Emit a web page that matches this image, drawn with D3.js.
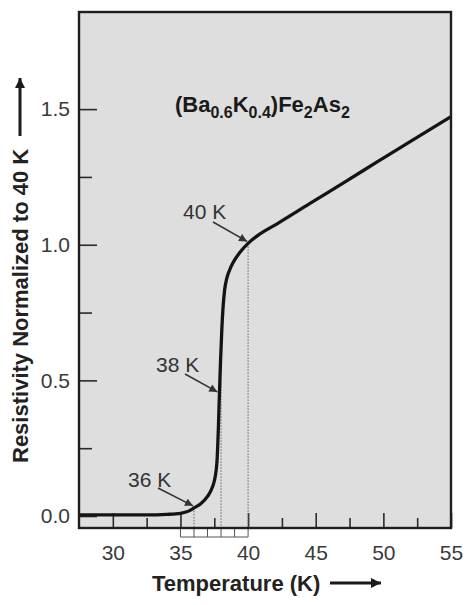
<!DOCTYPE html>
<html>
<head>
<meta charset="utf-8">
<script src="https://cdn.jsdelivr.net/npm/d3@7"></script>
<style>
  body { margin: 0; background: #fff; }
  text { font-family: "Liberation Sans", Arial, Helvetica, sans-serif; }
</style>
</head>
<body>
<div id="chart"></div>
<script>
// Resistivity vs temperature, (Ba0.6K0.4)Fe2As2
const temps  = [27.5, 30, 32.5, 34, 35, 35.6, 36, 36.5, 37, 37.35, 37.55, 37.7, 37.8, 37.88, 37.97, 38.06, 38.15, 38.27, 38.42, 38.62, 38.9, 39.4, 40, 40.6, 41.3, 42.2, 44.7, 47.2, 49.6, 52.1, 55];
const resist = [0.004, 0.004, 0.004, 0.006, 0.010, 0.018, 0.030, 0.045, 0.072, 0.105, 0.14, 0.20, 0.32, 0.45, 0.58, 0.69, 0.77, 0.835, 0.875, 0.905, 0.935, 0.972, 1.005, 1.03, 1.053, 1.079, 1.156, 1.233, 1.307, 1.384, 1.472];

const xMajor = [30, 35, 40, 45, 50, 55];
const xMinor = [32.5, 37.5, 42.5, 47.5, 52.5];
const yMajor = [0, 0.5, 1.0, 1.5];
const yMinor = [0.25, 0.75, 1.25];
const boxTicks = [35, 36, 37, 38, 39, 40];   // little boxes under the axis

// arrows: label, temperature, resistivity where the arrow points
const notes = [
  {label: "40 K", t: 40, r: 1.005, tx: 183, ty: 219, ax: 213, ay: 222},
  {label: "38 K", t: 37.8, r: 0.45, tx: 156, ty: 372, ax: 185, ay: 374},
  {label: "36 K", t: 36, r: 0.030, tx: 128, ty: 487, ax: 158, ay: 488}
];
const guides = [{t: 36, r: 0.03}, {t: 38, r: 0.5}, {t: 40, r: 1.005}];

const W = 465, H = 605;
const mLeft = 79, mRight = 451, mTop = 12, mBottom = 528;

const svg = d3.select("#chart").append("svg")
  .attr("width", W).attr("height", H);

const defs = svg.append("defs");
defs.append("marker")
  .attr("id", "head")
  .attr("viewBox", "0 0 10 10")
  .attr("refX", 10).attr("refY", 5)
  .attr("markerWidth", 10).attr("markerHeight", 8)
  .attr("markerUnits", "userSpaceOnUse")
  .attr("orient", "auto")
  .append("path").attr("d", "M0,0L10,5L0,10Z").attr("fill", "#333");
defs.append("marker")
  .attr("id", "bighead")
  .attr("viewBox", "0 0 10 10")
  .attr("refX", 10).attr("refY", 5)
  .attr("markerWidth", 13).attr("markerHeight", 10)
  .attr("markerUnits", "userSpaceOnUse")
  .attr("orient", "auto")
  .append("path").attr("d", "M0,0L10,5L0,10Z").attr("fill", "#1a1a1a");

let x = d3.scaleLinear().domain([27.5, 55]).range([mLeft, mRight]);
let y = d3.scaleLinear().domain([-0.0442, 1.858]).range([mBottom, mTop]);

// panel
svg.append("rect")
  .attr("x", mLeft).attr("y", mTop)
  .attr("width", mRight - mLeft).attr("height", mBottom - mTop)
  .attr("fill", "#dedede");

// ticks point inward
function styleAxis(g) {
  g.select(".domain").remove();
  g.selectAll("line").attr("stroke", "#2a2a2a").attr("stroke-width", 1.6);
  g.selectAll("text").attr("fill", "#3a3a3a").style("font-size", "21px");
}
svg.append("g")
  .attr("transform", "translate(0," + mBottom + ")")
  .call(d3.axisBottom(x).tickValues(xMajor).tickSize(-15).tickPadding(17).tickFormat(d3.format("d")))
  .call(styleAxis);
svg.append("g")
  .attr("transform", "translate(0," + mBottom + ")")
  .call(d3.axisBottom(x).tickValues(xMinor).tickSize(-10).tickFormat(""))
  .call(styleAxis);

svg.append("g")
  .attr("transform", "translate(" + mLeft + ",0)")
  .call(d3.axisLeft(y).tickValues(yMajor).tickSize(-18).tickPadding(9).tickFormat(d3.format(".1f")))
  .call(styleAxis);
svg.append("g")
  .attr("transform", "translate(" + mLeft + ",0)")
  .call(d3.axisLeft(y).tickValues(yMinor).tickSize(-13).tickFormat(""))
  .call(styleAxis);

// boxes below axis between 35 and 40 K
svg.selectAll(".box")
  .data(boxTicks)
  .enter().append("line")
  .attr("x1", d => x(d)).attr("x2", d => x(d))
  .attr("y1", mBottom).attr("y2", mBottom + 9)
  .attr("stroke", "#555").attr("stroke-width", 1);
svg.append("line")
  .attr("x1", x(boxTicks[0])).attr("x2", x(boxTicks[boxTicks.length - 1]))
  .attr("y1", mBottom + 9).attr("y2", mBottom + 9)
  .attr("stroke", "#555").attr("stroke-width", 1);

// dotted guides
svg.selectAll(".guide")
  .data(guides)
  .enter().append("line")
  .attr("x1", d => x(d.t)).attr("x2", d => x(d.t))
  .attr("y1", d => y(d.r)).attr("y2", mBottom)
  .attr("stroke", "#666").attr("stroke-width", 1)
  .attr("stroke-dasharray", "1.5,1.5");

// curve
const pts = temps.map((t, i) => [t, resist[i]]);
const line = d3.line()
  .x(d => x(d[0]))
  .y(d => y(d[1]))
  .curve(d3.curveMonotoneX);
svg.append("path")
  .datum(pts)
  .attr("d", line)
  .attr("fill", "none")
  .attr("stroke", "#141414")
  .attr("stroke-width", 3.3)
  .attr("stroke-linejoin", "round");

// frame on top
svg.append("rect")
  .attr("x", mLeft).attr("y", mTop)
  .attr("width", mRight - mLeft).attr("height", mBottom - mTop)
  .attr("fill", "none")
  .attr("stroke", "#1e1e1e").attr("stroke-width", 2.4);

// annotations
notes.forEach(n => {
  svg.append("text")
    .attr("x", n.tx).attr("y", n.ty)
    .attr("fill", "#333")
    .style("font-size", "21px")
    .text(n.label);
  svg.append("line")
    .attr("x1", n.ax).attr("y1", n.ay)
    .attr("x2", x(n.t) - 1).attr("y2", y(n.r) - 2)
    .attr("stroke", "#333").attr("stroke-width", 1.5)
    .attr("marker-end", "url(#head)");
});

// formula
const f = svg.append("text")
  .attr("x", 175).attr("y", 112)
  .attr("fill", "#1a1a1a")
  .style("font-size", "22px")
  .style("font-weight", "bold");
const parts = [["(Ba", 0], ["0.6", 1], ["K", 0], ["0.4", 1], [")Fe", 0], ["2", 1], ["As", 0], ["2", 1]];
let prev = 0;
parts.forEach(p => {
  const shift = p[1] ? 6 : 0;
  f.append("tspan")
    .attr("dy", shift - prev)
    .style("font-size", p[1] ? "16px" : "22px")
    .text(p[0]);
  prev = shift;
});

// axis titles
svg.append("text")
  .attr("transform", "translate(28,463) rotate(-90)")
  .attr("fill", "#222")
  .style("font-size", "22px")
  .style("font-weight", "bold")
  .text("Resistivity Normalized to 40 K");
svg.append("line")
  .attr("x1", 20).attr("y1", 136)
  .attr("x2", 20).attr("y2", 78)
  .attr("stroke", "#1a1a1a").attr("stroke-width", 3)
  .attr("marker-end", "url(#bighead)");

svg.append("text")
  .attr("x", 152).attr("y", 591)
  .attr("fill", "#222")
  .style("font-size", "22px")
  .style("font-weight", "bold")
  .text("Temperature (K)");
svg.append("line")
  .attr("x1", 330).attr("y1", 583)
  .attr("x2", 381).attr("y2", 583)
  .attr("stroke", "#1a1a1a").attr("stroke-width", 3)
  .attr("marker-end", "url(#bighead)");
</script>
</body>
</html>
